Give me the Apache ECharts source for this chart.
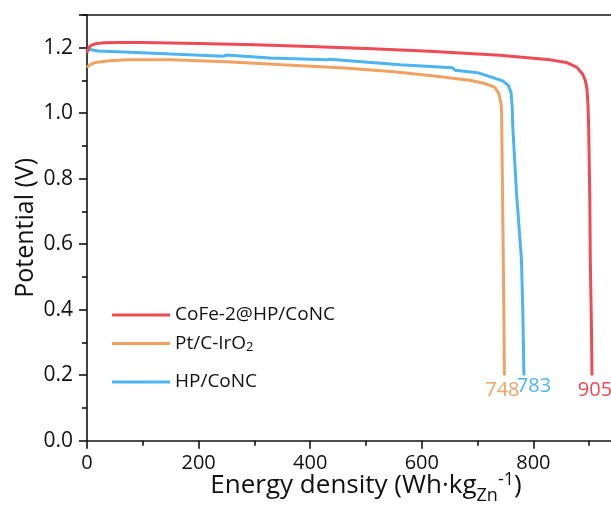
<!DOCTYPE html>
<html>
<head>
<meta charset="utf-8">
<script src="https://cdn.jsdelivr.net/npm/echarts@6/dist/echarts.min.js"></script>
<style>
html,body{margin:0;padding:0;background:#fff;}
#chart{width:611px;height:510px;}
</style>
</head>
<body>
<div id="chart"></div>
<script>
// Series names
const seriesNames = ['CoFe-2@HP/CoNC', 'Pt/C-IrO2', 'HP/CoNC'];

// CoFe-2@HP/CoNC (red)
const redX = [0, 3, 8, 15, 30, 60, 100, 200, 300, 400, 500, 614, 700, 740, 800, 830, 859, 878, 888, 893, 896, 898, 899, 901, 902, 904, 905];
const redY = [1.185, 1.2, 1.208, 1.212, 1.215, 1.216, 1.216, 1.213, 1.209, 1.204, 1.198, 1.189, 1.181, 1.177, 1.168, 1.163, 1.155, 1.14, 1.12, 1.1, 1.075, 1.02, 0.96, 0.75, 0.55, 0.35, 0.2];

// Pt/C-IrO2 (orange)
const orangeX = [0, 5, 15, 40, 73, 150, 250, 350, 462, 550, 614, 686, 715, 731, 738, 742, 743, 744, 746, 747, 748];
const orangeY = [1.14, 1.148, 1.155, 1.16, 1.163, 1.163, 1.157, 1.148, 1.138, 1.127, 1.115, 1.101, 1.09, 1.079, 1.06, 1.03, 1.0, 0.86, 0.56, 0.4, 0.2];

// HP/CoNC (blue)
const blueX = [0, 20, 77, 150, 245, 250, 328, 330, 430, 435, 561, 655, 660, 700, 745, 755, 760, 762, 763, 770, 778.6, 781, 783];
const blueY = [1.196, 1.19, 1.186, 1.181, 1.174, 1.178, 1.169, 1.171, 1.163, 1.165, 1.148, 1.139, 1.131, 1.124, 1.099, 1.085, 1.063, 1.02, 0.96, 0.75, 0.553, 0.4, 0.2];

// End labels
const endLabels = ['905', '748', '783'];

// Axis ticks
const xMin = 0, xMax = 1000, xInterval = 200;
const yMin = 0, yMax = 1.3, yInterval = 0.2;

const colors = ['#EF4B55', '#F0A263', '#4DB4F2'];
const labelOffsets = [[3, 0], [-2, 0], [10, -4.5]];
const fontFam = '"Open Sans", "Noto Sans", sans-serif';

function buildData(xs, ys, idx) {
  const d = xs.map((x, i) => [x, ys[i]]);
  const last = d.pop();
  d.push({
    value: last,
    symbol: 'circle',
    symbolSize: 1,
    itemStyle: {color: colors[idx]},
    label: {
      show: true,
      position: 'bottom',
      distance: 5,
      offset: labelOffsets[idx],
      formatter: endLabels[idx],
      color: colors[idx],
      fontSize: 20,
      fontFamily: fontFam
    }
  });
  return d;
}

const chart = echarts.init(document.getElementById('chart'), null, {renderer: 'canvas'});

const axisLineStyle = {color: '#111', width: 1.6};

function legendFor(i, top) {
  return {
    data: [seriesNames[i]],
    left: 112,
    top: top,
    icon: 'rect',
    itemWidth: 58,
    itemHeight: 3,
    itemGap: 0,
    padding: 0,
    selectedMode: false,
    formatter: function (name) {
      if (name === 'Pt/C-IrO2') return 'Pt/C-IrO{sub|2}';
      return name;
    },
    textStyle: {
      fontSize: 19,
      lineHeight: 20,
      color: '#111',
      fontFamily: fontFam,
      rich: {
        sub: {fontSize: 13, lineHeight: 13, padding: [8, 0, 0, 0], verticalAlign: 'middle', fontFamily: fontFam, color: '#111'}
      }
    }
  };
}

const option = {
  backgroundColor: '#fff',
  animation: false,
  grid: {left: 87, right: -34, top: 15, bottom: 69.3, containLabel: false, outerBoundsMode: 'none'},
  legend: [legendFor(0, 305), legendFor(1, 333), legendFor(2, 372)],
  xAxis: [{
    type: 'value',
    min: xMin, max: xMax, interval: xInterval,
    name: 'Energy density (Wh·kg{sub|Zn}{sup|-1})',
    nameLocation: 'middle',
    nameGap: 29.5,
    nameMoveOverlap: false,
    nameTextStyle: {
      fontSize: 26, lineHeight: 30, color: '#111', fontFamily: fontFam,
      rich: {
        sub: {fontSize: 18, lineHeight: 18, padding: [22, 0, 0, 0], verticalAlign: 'middle', fontFamily: fontFam, color: '#111'},
        sup: {fontSize: 18, lineHeight: 18, padding: [0, 0, 10, 0], verticalAlign: 'middle', fontFamily: fontFam, color: '#111'}
      }
    },
    axisLine: {show: true, onZero: false, lineStyle: axisLineStyle},
    axisTick: {show: true, inside: false, length: 8, lineStyle: axisLineStyle},
    minorTick: {show: true, splitNumber: 2, length: 5, lineStyle: axisLineStyle},
    axisLabel: {fontSize: 20, margin: 13, color: '#111', fontFamily: fontFam, showMaxLabel: false},
    splitLine: {show: false}
  }, {
    type: 'value',
    position: 'top',
    min: xMin, max: xMax, interval: xInterval,
    axisLine: {show: true, onZero: false, lineStyle: axisLineStyle},
    axisTick: {show: false},
    axisLabel: {show: false},
    splitLine: {show: false}
  }],
  yAxis: {
    type: 'value',
    min: yMin, max: yMax, interval: yInterval,
    name: 'Potential (V)',
    nameLocation: 'middle',
    nameGap: 49,
    nameMoveOverlap: false,
    nameTextStyle: {fontSize: 25, color: '#111', fontFamily: fontFam},
    axisLine: {show: true, onZero: false, lineStyle: axisLineStyle},
    axisTick: {show: true, inside: false, length: 8, lineStyle: axisLineStyle},
    minorTick: {show: true, splitNumber: 2, length: 5, lineStyle: axisLineStyle},
    axisLabel: {fontSize: 21, margin: 14, color: '#111', fontFamily: fontFam, showMaxLabel: false,
      formatter: v => v.toFixed(1)},
    splitLine: {show: false}
  },
  series: [
    {name: seriesNames[0], type: 'line', symbol: 'none', smooth: false, color: colors[0],
     lineStyle: {width: 3, color: colors[0]}, data: buildData(redX, redY, 0), z: 3},
    {name: seriesNames[1], type: 'line', symbol: 'none', smooth: false, color: colors[1],
     lineStyle: {width: 3, color: colors[1]}, data: buildData(orangeX, orangeY, 1), z: 2},
    {name: seriesNames[2], type: 'line', symbol: 'none', smooth: false, color: colors[2],
     lineStyle: {width: 3, color: colors[2]}, data: buildData(blueX, blueY, 2), z: 2}
  ]
};
chart.setOption(option);
</script>
</body>
</html>
